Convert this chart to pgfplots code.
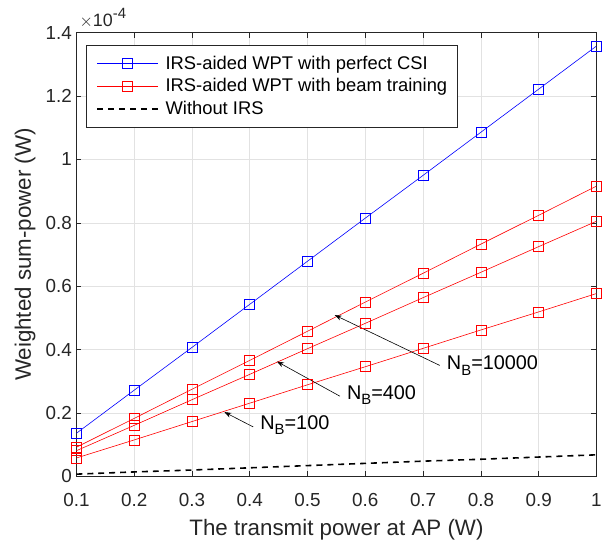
\documentclass[border=0pt]{standalone}
\usepackage{pgfplots}
\pgfplotsset{compat=1.18}
\usepackage{fontspec}
\setmainfont{Liberation Sans}
\usetikzlibrary{arrows.meta}
\definecolor{axgray}{RGB}{38,38,38}
\definecolor{grd}{RGB}{226,226,226}
\newcommand{\NB}[1]{N\raisebox{-0.5ex}{\fontsize{15}{15}\selectfont B}=#1}
\begin{document}
\begin{tikzpicture}
\begin{axis}[
  name=ax,
  scale only axis,
  width=524pt, height=447pt,
  xmin=0.1, xmax=1, ymin=0, ymax=1.4,
  xtick={0.1,0.2,0.3,0.4,0.5,0.6,0.7,0.8,0.9,1},
  ytick={0,0.2,0.4,0.6,0.8,1,1.2,1.4},
  /pgf/number format/assume math mode=true,
  tick label style={font=\fontsize{19}{19}\selectfont, color=axgray},
  xticklabel style={anchor=base, yshift=-30pt},
  yticklabel style={xshift=-1pt},
  label style={font=\fontsize{22.5}{22.5}\selectfont, color=axgray},
  xlabel={The transmit power at AP (W)},
  ylabel={Weighted sum-power (W)},
  xlabel style={at={([yshift=-60pt]axis description cs:0.5,0)}, anchor=base},
  ylabel style={at={([xshift=-46pt]axis description cs:0,0.5)}, anchor=base},
  grid=major,
  major grid style={grd, line width=0.6pt},
  axis line style={axgray, line width=0.6pt},
  tick style={axgray, line width=0.6pt},
  tick align=inside,
  major tick length=5pt,
  xtick pos=both, ytick pos=both,
  legend cell align=left,
  legend style={at={(rel axis cs:0.019,0.973)}, anchor=north west,
    font=\fontsize{18.5}{18.5}\selectfont, draw=axgray, line width=0.6pt,
    inner xsep=10pt, inner ysep=11pt, row sep=8pt, text=black,
    nodes={inner sep=0pt},
    /tikz/every odd column/.append style={column sep=7pt}},
  legend image code/.code={\draw[mark repeat=2,mark phase=2,#1] plot coordinates {(0pt,0pt) (30.5pt,0pt) (61pt,0pt)};},
]
\addplot[blue, line width=0.6pt, mark=square, mark size=5pt, mark options={line width=0.7pt}] coordinates {
(0.1,0.136)(0.2,0.272)(0.3,0.407)(0.4,0.543)(0.5,0.679)(0.6,0.815)(0.7,0.950)(0.8,1.086)(0.9,1.222)(1,1.358)};
\addlegendentry{IRS-aided WPT with perfect CSI}
\addplot[red, line width=0.6pt, mark=square, mark size=5pt, mark options={line width=0.7pt}] coordinates {
(0.1,0.092)(0.2,0.183)(0.3,0.275)(0.4,0.366)(0.5,0.458)(0.6,0.550)(0.7,0.641)(0.8,0.733)(0.9,0.824)(1,0.916)};
\addlegendentry{IRS-aided WPT with beam training}
\addplot[black, line width=1.6pt, dash pattern=on 6pt off 5pt] coordinates {
(0.1,0.007)(0.2,0.014)(0.3,0.020)(0.4,0.027)(0.5,0.034)(0.6,0.041)(0.7,0.048)(0.8,0.054)(0.9,0.061)(1,0.068)};
\addlegendentry{Without IRS}
\addplot[red, line width=0.6pt, mark=square, mark size=5pt, mark options={line width=0.7pt}, forget plot] coordinates {
(0.1,0.081)(0.2,0.161)(0.3,0.242)(0.4,0.322)(0.5,0.403)(0.6,0.483)(0.7,0.564)(0.8,0.644)(0.9,0.725)(1,0.805)};
\addplot[red, line width=0.6pt, mark=square, mark size=5pt, mark options={line width=0.7pt}, forget plot] coordinates {
(0.1,0.058)(0.2,0.115)(0.3,0.173)(0.4,0.231)(0.5,0.289)(0.6,0.346)(0.7,0.404)(0.8,0.462)(0.9,0.519)(1,0.577)};
% annotations
\draw[black, line width=0.6pt, -{Stealth[length=7pt,width=5pt]}] (axis cs:0.729,0.350) -- (axis cs:0.547,0.509);
\node[anchor=west, inner sep=0pt, font=\fontsize{20}{20}\selectfont] at (axis cs:0.741,0.350) {\NB{10000}};
\draw[black, line width=0.6pt, -{Stealth[length=7pt,width=5pt]}] (axis cs:0.556,0.253) -- (axis cs:0.447,0.3625);
\node[anchor=west, inner sep=0pt, font=\fontsize{20}{20}\selectfont] at (axis cs:0.568,0.256) {\NB{400}};
\draw[black, line width=0.6pt, -{Stealth[length=7pt,width=5pt]}] (axis cs:0.406,0.156) -- (axis cs:0.356,0.203);
\node[anchor=west, inner sep=0pt, font=\fontsize{20}{20}\selectfont] at (axis cs:0.418,0.163) {\NB{100}};
\end{axis}
\node[anchor=base west, inner sep=0pt, color=axgray, font=\fontsize{18}{18}\selectfont] at ([xshift=3pt, yshift=6pt]ax.north west) {$\times$10\raisebox{0.9ex}{\fontsize{15}{15}\selectfont -4}};
\path[use as bounding box] (-77pt,-64pt) rectangle (528pt,480pt);
\end{tikzpicture}
\end{document}
